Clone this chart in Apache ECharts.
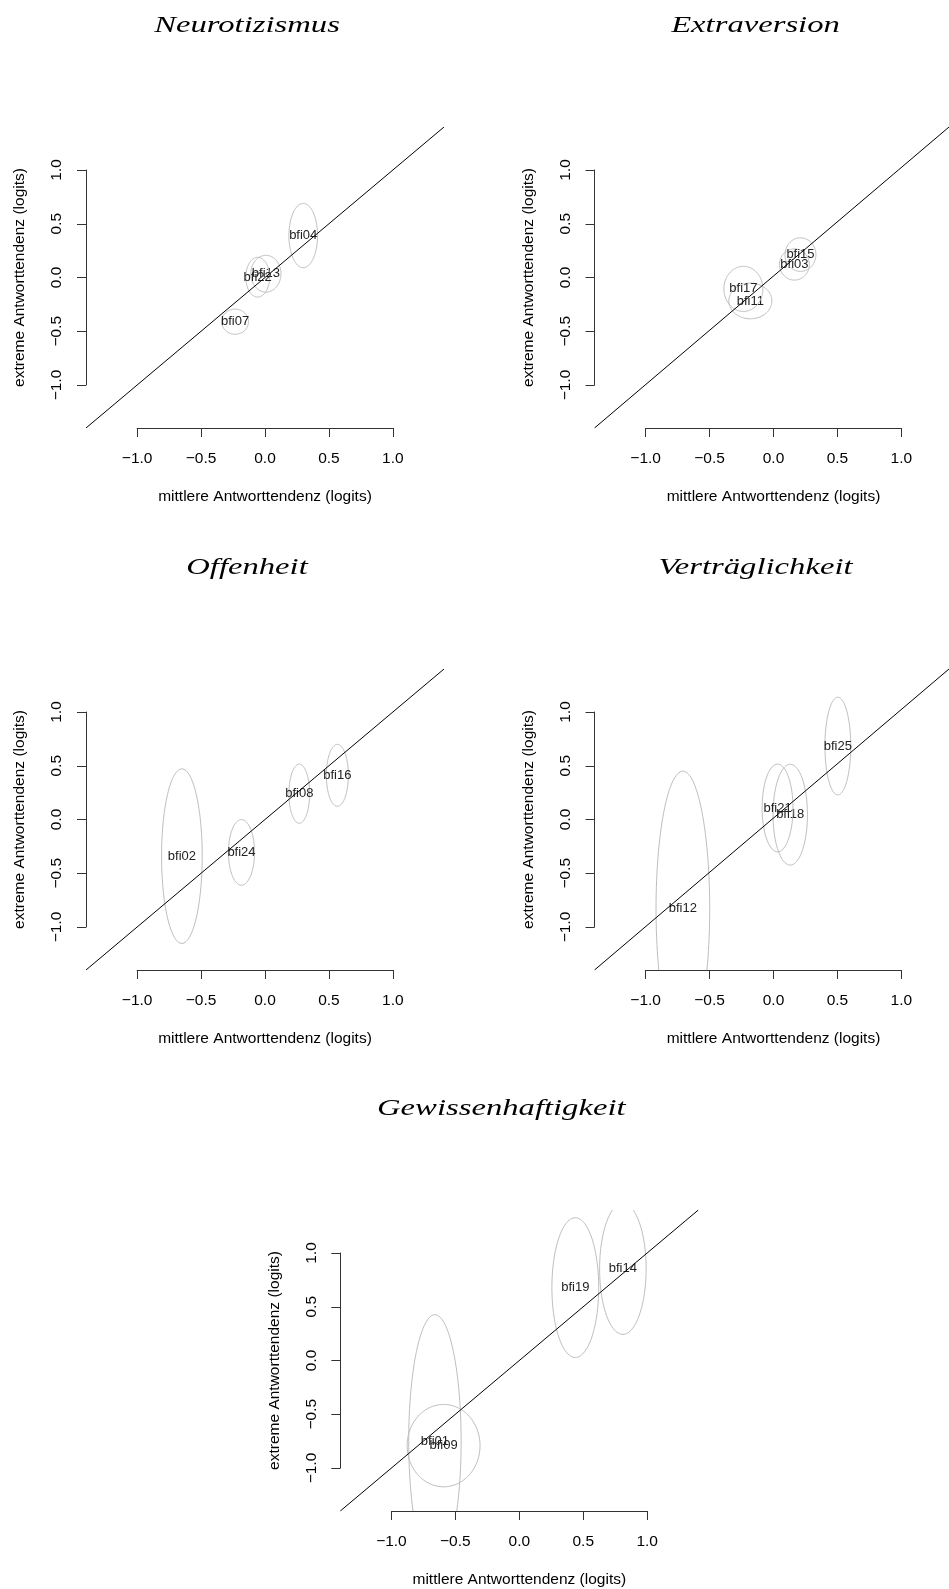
<!DOCTYPE html>
<html><head><meta charset="utf-8">
<script src="https://cdn.jsdelivr.net/npm/echarts@6/dist/echarts.min.js"></script>
<style>html,body{margin:0;padding:0;background:#fff}#c{width:949px;height:1589px}</style>
</head><body><div id="c"></div>
<script>
// ---------- data ----------
const panelTitles = ['Neurotizismus', 'Extraversion', 'Offenheit', 'Verträglichkeit', 'Gewissenhaftigkeit'];
const xAxisName = 'mittlere Antworttendenz (logits)';
const yAxisName = 'extreme Antworttendenz (logits)';
const tickValues = [-1, -0.5, 0, 0.5, 1];
const tickLabels = ['\u22121.0', '\u22120.5', '0.0', '0.5', '1.0'];
const axisLimits = [-1.4, 1.4];
const diagonal = { intercept: 0, slope: 1 };

// Neurotizismus
const neuroItems   = ['bfi04', 'bfi07', 'bfi13', 'bfi22'];
const neuroMid     = [0.299, -0.234, 0.007, -0.057];
const neuroExt     = [0.390, -0.411, 0.035, 0.003];
const neuroMidHalf = [0.112, 0.105, 0.118, 0.093];
const neuroExtHalf = [0.299, 0.117, 0.171, 0.185];

// Extraversion
const extraItems   = ['bfi03', 'bfi11', 'bfi15', 'bfi17'];
const extraMid     = [0.179, -0.169, 0.227, -0.224];
const extraExt     = [0.121, -0.218, 0.213, -0.106];
const extraMidHalf = [0.118, 0.170, 0.122, 0.154];
const extraExtHalf = [0.145, 0.166, 0.156, 0.210];

// Offenheit
const openItems   = ['bfi02', 'bfi08', 'bfi16', 'bfi24'];
const openMid     = [-0.650, 0.268, 0.566, -0.184];
const openExt     = [-0.341, 0.240, 0.411, -0.306];
const openMidHalf = [0.159, 0.081, 0.086, 0.102];
const openExtHalf = [0.812, 0.275, 0.288, 0.305];

// Verträglichkeit
const agreeItems   = ['bfi12', 'bfi18', 'bfi21', 'bfi25'];
const agreeMid     = [-0.702, 0.146, 0.046, 0.522];
const agreeExt     = [-0.831, 0.045, 0.107, 0.683];
const agreeMidHalf = [0.212, 0.136, 0.122, 0.102];
const agreeExtHalf = [1.281, 0.469, 0.408, 0.454];

// Gewissenhaftigkeit
const consItems   = ['bfi01', 'bfi09', 'bfi14', 'bfi19'];
const consMid     = [-0.660, -0.592, 0.810, 0.438];
const consExt     = [-0.750, -0.792, 0.853, 0.678];
const consMidHalf = [0.205, 0.285, 0.182, 0.183];
const consExtHalf = [1.176, 0.383, 0.610, 0.650];

const panelData = [
  [neuroItems, neuroMid, neuroExt, neuroMidHalf, neuroExtHalf],
  [extraItems, extraMid, extraExt, extraMidHalf, extraExtHalf],
  [openItems, openMid, openExt, openMidHalf, openExtHalf],
  [agreeItems, agreeMid, agreeExt, agreeMidHalf, agreeExtHalf],
  [consItems, consMid, consExt, consMidHalf, consExtHalf]
];

// ---------- layout ----------
const PW = 358, PH = 301;
const layout = [
  { left: 86, top: 127 },
  { left: 594.5, top: 127 },
  { left: 86, top: 669 },
  { left: 594.5, top: 669 },
  { left: 340.3, top: 1210 }
];
const SANS = '"Liberation Sans", Arial, sans-serif';
const axisColor = '#333';
const span = axisLimits[1] - axisLimits[0];
const tickSpan = tickValues[tickValues.length - 1] - tickValues[0];

function fmt(v) {
  let best = 0, bd = Infinity;
  tickValues.forEach((t, i) => { const d = Math.abs(t - v); if (d < bd) { bd = d; best = i; } });
  return tickLabels[best];
}

const grid = [], xAxis = [], yAxis = [], series = [], graphic = [];

layout.forEach((L, p) => {
  const sx = PW / span, sy = PH / span;
  const padX = (tickValues[0] - axisLimits[0]) * sx;
  const padY = (axisLimits[1] - tickValues[tickValues.length - 1]) * sy;
  const g0 = grid.length;
  grid.push({ left: L.left, top: L.top, width: PW, height: PH });
  grid.push({ left: L.left + padX, top: L.top, width: tickSpan * sx, height: PH });
  grid.push({ left: L.left, top: L.top + padY, width: PW, height: tickSpan * sy });

  const hidden = { type: 'value', show: false, min: axisLimits[0], max: axisLimits[1] };
  xAxis.push(Object.assign({ gridIndex: g0 }, hidden));
  yAxis.push(Object.assign({ gridIndex: g0 }, hidden));

  const common = {
    type: 'value', min: tickValues[0], max: tickValues[tickValues.length - 1], interval: 0.5,
    axisLine: { show: true, onZero: false, lineStyle: { color: axisColor, width: 1 } },
    axisTick: { show: true, length: 9, lineStyle: { color: axisColor, width: 1 } },
    splitLine: { show: false },
    nameLocation: 'middle',
    nameTextStyle: { fontFamily: SANS, fontSize: 15.5, color: '#000' }
  };
  xAxis.push(Object.assign({}, common, {
    gridIndex: g0 + 1, position: 'bottom', name: xAxisName, nameGap: 61,
    axisLabel: { margin: 23, fontFamily: SANS, fontSize: 15.5, color: '#000', formatter: fmt, showMinLabel: true, showMaxLabel: true }
  }));
  yAxis.push({ gridIndex: g0 + 1, type: 'value', show: false });

  xAxis.push({ gridIndex: g0 + 2, type: 'value', show: false });
  yAxis.push(Object.assign({}, common, {
    gridIndex: g0 + 2, position: 'left', name: yAxisName, nameGap: 58, nameRotate: 90,
    axisLabel: { margin: 21, rotate: 90, fontFamily: SANS, fontSize: 15.5, color: '#000', formatter: fmt, showMinLabel: true, showMaxLabel: true }
  }));

  const xi = p * 3, yi = p * 3;
  series.push({
    type: 'line', xAxisIndex: xi, yAxisIndex: yi, silent: true, symbol: 'none', clip: true,
    lineStyle: { color: '#000', width: 1 },
    data: axisLimits.map(v => [v, diagonal.intercept + diagonal.slope * v]),
    animation: false
  });

  const [items, mid, ext, midH, extH] = panelData[p];
  series.push({
    type: 'custom', xAxisIndex: xi, yAxisIndex: yi, clip: true, silent: true,
    data: items.map((n, i) => [mid[i], ext[i], midH[i], extH[i]]),
    renderItem: function (params, api) {
      const cx = api.value(0), cy = api.value(1), rx = api.value(2), ry = api.value(3);
      const pts = [];
      for (let k = 0; k < 120; k++) {
        const t = k / 120 * Math.PI * 2;
        pts.push(api.coord([cx + rx * Math.cos(t), cy + ry * Math.sin(t)]));
      }
      const c = api.coord([cx, cy]);
      return {
        type: 'group',
        children: [
          { type: 'polygon', shape: { points: pts }, style: { fill: 'none', stroke: '#bebebe', lineWidth: 1 } },
          { type: 'text', x: c[0], y: c[1], style: { text: items[params.dataIndex], fill: '#222', font: '13px ' + SANS, align: 'center', verticalAlign: 'middle', textAlign: 'center', textVerticalAlign: 'middle' } }
        ]
      };
    },
    animation: false
  });

  graphic.push({
    type: 'text', x: L.left + 161, y: L.top - 101, scaleX: 1.42, silent: true,
    style: { text: panelTitles[p], font: 'italic 23px "Liberation Serif", serif', fill: '#000', align: 'center', verticalAlign: 'middle', textAlign: 'center', textVerticalAlign: 'middle' }
  });
});

const chart = echarts.init(document.getElementById('c'), null, { renderer: 'canvas' });
chart.setOption({ animation: false, backgroundColor: '#fff', grid, xAxis, yAxis, series, graphic });
</script></body></html>
